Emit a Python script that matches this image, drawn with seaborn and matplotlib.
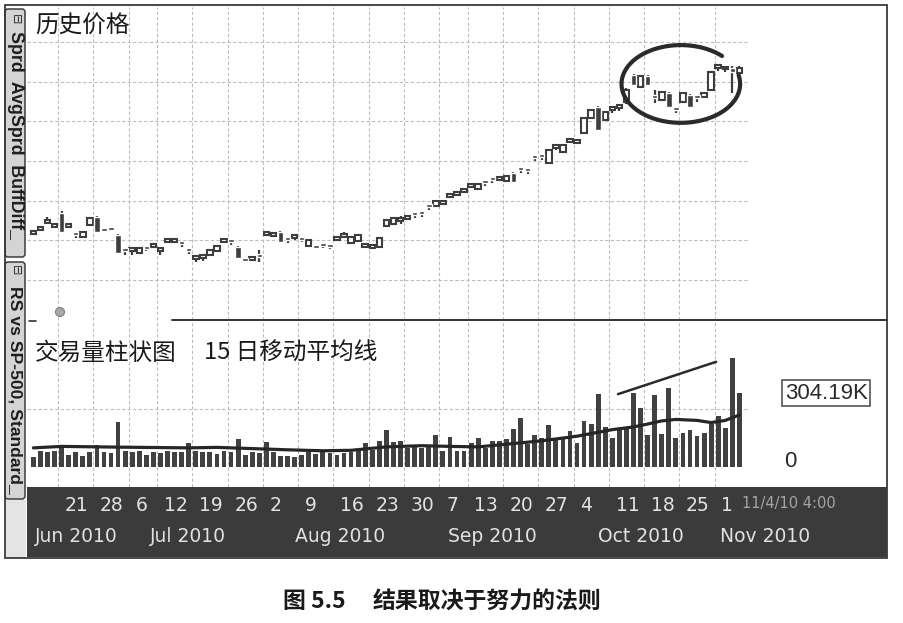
import numpy as np
import matplotlib
matplotlib.use('Agg')
import matplotlib.pyplot as plt
from matplotlib.patches import Rectangle, FancyBboxPatch, Circle
import seaborn as sns

W, H = 904, 623

# ---- data (bar 0 = 15 Jun 2010, last bar = 4 Nov 2010) ----
open_ = [21.16, 21.26, 21.44, 21.34, 21.69, 21.34, 21.16, 21.08, 21.39, 21.59,
         21.26, 21.28, 21.13, 20.76, 20.73, 20.68, 20.81, 20.83, 20.73, 20.96,
         20.96, 20.93, 20.76, 20.53, 20.55, 20.63, 20.73, 20.96, 20.98, 20.83,
         20.50, 20.50, 20.60, 21.13, 21.11, 21.21, 21.03, 21.06, 21.03, 20.86,
         20.83, 20.88, 20.86, 21.01, 21.08, 20.93, 20.98, 20.83, 20.81, 20.83,
         21.36, 21.41, 21.49, 21.54, 21.66, 21.69, 21.86, 21.86, 21.91, 22.09,
         22.14, 22.22, 22.34, 22.29, 22.47, 22.54, 22.52, 22.49, 22.70, 22.80,
         22.77, 23.10, 23.12, 22.95, 23.32, 23.22, 23.48, 23.45, 23.70, 24.08,
         24.36, 24.03, 24.28, 24.33, 24.48, 25.16, 24.86, 25.14, 24.63, 24.53,
         24.71, 24.31, 24.48, 24.66, 24.61, 24.61, 24.79, 25.34, 25.31, 25.34,
         25.21]
close = [21.21, 21.31, 21.46, 21.36, 21.21, 21.36, 21.13, 21.21, 21.56, 21.21,
         21.23, 21.26, 20.68, 20.73, 20.76, 20.81, 20.78, 20.86, 20.76, 20.98,
         20.98, 20.91, 20.73, 20.55, 20.58, 20.76, 20.86, 20.98, 20.96, 20.55,
         20.48, 20.53, 20.58, 21.16, 21.13, 20.96, 21.01, 21.08, 21.01, 21.01,
         20.81, 20.86, 20.83, 21.03, 21.11, 21.08, 21.13, 20.86, 20.83, 21.06,
         21.51, 21.56, 21.51, 21.56, 21.64, 21.66, 21.84, 21.99, 21.94, 22.12,
         22.17, 22.24, 22.37, 22.42, 22.44, 22.52, 22.54, 22.62, 22.47, 22.77,
         22.75, 23.07, 23.10, 23.27, 23.35, 23.40, 23.50, 23.48, 24.08, 24.28,
         23.78, 24.23, 24.31, 24.36, 24.79, 24.91, 25.14, 24.91, 24.58, 24.74,
         24.36, 24.28, 24.71, 24.36, 24.58, 24.71, 25.24, 25.37, 25.34, 25.24,
         25.34]
high = [21.23, 21.34, 21.59, 21.41, 21.74, 21.39, 21.18, 21.23, 21.59, 21.61,
        21.28, 21.31, 21.16, 20.78, 20.81, 20.83, 20.83, 20.91, 20.81, 21.01,
        21.06, 20.93, 20.76, 20.60, 20.63, 20.78, 20.88, 21.06, 20.98, 20.86,
        20.53, 20.60, 20.76, 21.23, 21.21, 21.23, 21.03, 21.16, 21.03, 21.03,
        20.86, 20.88, 20.86, 21.06, 21.21, 21.11, 21.16, 20.88, 20.86, 21.08,
        21.54, 21.59, 21.61, 21.64, 21.66, 21.69, 21.86, 22.02, 21.96, 22.19,
        22.24, 22.32, 22.44, 22.44, 22.47, 22.54, 22.57, 22.64, 22.72, 22.80,
        22.77, 23.10, 23.12, 23.30, 23.43, 23.43, 23.55, 23.50, 24.11, 24.31,
        24.38, 24.26, 24.36, 24.41, 24.84, 25.19, 25.16, 25.16, 24.79, 24.76,
        24.74, 24.31, 24.74, 24.69, 24.61, 24.74, 25.26, 25.39, 25.37, 25.39,
        25.39]
low = [21.13, 21.23, 21.41, 21.31, 21.18, 21.31, 21.06, 21.06, 21.36, 21.18,
       21.21, 21.23, 20.65, 20.63, 20.63, 20.65, 20.73, 20.83, 20.63, 20.93,
       20.96, 20.83, 20.65, 20.45, 20.48, 20.60, 20.71, 20.96, 20.88, 20.53,
       20.45, 20.50, 20.45, 21.13, 21.11, 20.93, 20.93, 21.01, 20.96, 20.83,
       20.78, 20.81, 20.78, 21.01, 21.08, 20.91, 20.96, 20.81, 20.78, 20.81,
       21.34, 21.39, 21.41, 21.54, 21.56, 21.59, 21.76, 21.84, 21.89, 22.09,
       22.14, 22.22, 22.34, 22.27, 22.37, 22.44, 22.49, 22.47, 22.44, 22.70,
       22.67, 23.00, 23.02, 22.92, 23.27, 23.20, 23.48, 23.43, 23.68, 24.06,
       23.75, 24.01, 24.21, 24.26, 24.43, 24.89, 24.84, 24.89, 24.46, 24.51,
       24.33, 24.21, 24.46, 24.33, 24.48, 24.58, 24.76, 25.26, 25.24, 24.71,
       25.16]

# volume in thousands
volume = [41, 66, 62, 66, 87, 49, 62, 45, 62, 91,
          62, 58, 185, 66, 62, 66, 49, 62, 58, 66,
          62, 62, 99, 66, 62, 62, 54, 66, 62, 115,
          49, 62, 58, 103, 62, 45, 45, 41, 49, 62,
          54, 62, 58, 49, 58, 62, 66, 99, 70, 107,
          152, 103, 107, 78, 82, 78, 87, 132, 66, 124,
          66, 66, 99, 119, 78, 107, 107, 115, 157, 202,
          95, 132, 119, 173, 115, 115, 148, 99, 190, 177,
          301, 165, 119, 152, 165, 305, 243, 132, 297, 136,
          325, 119, 140, 152, 128, 140, 177, 210, 161, 449,
          304.19]

# 15 day moving average as drawn
ma_idx = [0, 4, 12, 22, 26, 31, 36, 41, 45, 50, 55, 59, 63, 67, 72, 77, 82,
          85, 87, 89, 91, 94, 96, 98, 100]
ma_vol = [79, 85, 82, 79, 81, 76, 71, 67, 69, 83, 88, 85, 83, 94, 108, 127,
          154, 165, 177, 190, 196, 192, 183, 192, 214]

# first bar of each week and its day number
week_start_idx = [4, 9, 14, 18, 23, 28, 33, 38, 43, 48, 53, 58, 62, 67, 72,
                  77, 82, 87, 92, 97]
week_labels = ['21', '28', '6', '12', '19', '26', '2', '9', '16', '23', '30',
               '7', '13', '20', '27', '4', '11', '18', '25', '1']
month_labels = ['Jun 2010', 'Jul 2010', 'Aug 2010', 'Sep 2010', 'Oct 2010', 'Nov 2010']
month_pos = [0.25, 16.5, 37.1, 58.7, 80.0, 97.3]

# hand drawn annotations
trend_x = [82.8, 96.7]
trend_y = [300, 433]
ring_center = (91.7, 24.94)
ring_half = (8.4, 0.98)

# ---- style ----
sns.set_style('white')
plt.rcParams['font.family'] = ['Noto Sans CJK SC', 'DejaVu Sans']

ink = '#3e3e3e'
grid_kw = dict(color='#bdbdbd', lw=0.8, ls=(0, (3, 2)), zorder=1)
x_left, x_right = -0.9, 120.9
grid_end = 101.2
p_lo, p_hi = 18.99, 26.88
v_lo, v_hi = -82, 605

fig = plt.figure(figsize=(W / 100, H / 100), dpi=100)


def box(x0, y0, x1, y1):
    return [x0 / W, 1 - y1 / H, (x1 - x0) / W, (y1 - y0) / H]


ax_p = fig.add_axes(box(27, 7, 887, 320))
ax_v = fig.add_axes(box(27, 320, 887, 487))
ax_d = fig.add_axes(box(27, 487, 887, 557))

idx = np.arange(len(close))
o = np.array(open_)
c = np.array(close)
wk = np.array(week_start_idx) - 0.5

# price panel
ax_p.vlines(wk, p_lo, p_hi, **grid_kw)
ax_p.hlines(np.arange(20, 27), x_left, grid_end, **grid_kw)
ax_p.vlines(idx, low, high, color=ink, lw=1.6, zorder=2)
up = c >= o
bottom = np.minimum(o, c)
height = np.maximum(np.abs(c - o), 0.07)
ax_p.bar(idx[up], height[up], bottom=bottom[up], width=0.78,
         facecolor='white', edgecolor=ink, lw=1.5, zorder=3)
ax_p.bar(idx[~up], height[~up], bottom=bottom[~up], width=0.78,
         color=ink, zorder=3)
t = np.deg2rad(np.linspace(46, 373, 200))
ax_p.plot(ring_center[0] + ring_half[0] * np.cos(t),
          ring_center[1] + ring_half[1] * np.sin(t),
          color='#2a2a2a', lw=3, solid_capstyle='round', zorder=4)
ax_p.set_ylim(p_lo, p_hi)

# volume panel
ax_v.vlines(wk, v_lo, v_hi, **grid_kw)
ax_v.hlines([240], x_left, grid_end, **grid_kw)
sns.barplot(x=idx, y=volume, native_scale=True, color='#414141', saturation=1,
            width=0.68, errorbar=None, linewidth=0, ax=ax_v, zorder=2)
sns.lineplot(x=ma_idx, y=ma_vol, ax=ax_v, color='#262626', lw=2.3, zorder=4)
ax_v.plot(trend_x, trend_y, color='#2b2b2b', lw=1.8, zorder=4)
ax_v.text(112.3, volume[-1], '304.19K', ha='center', va='center', fontsize=16,
          family='Liberation Sans', color='#2a2a2a',
          bbox=dict(boxstyle='square,pad=0.12', fc='white', ec='#555555', lw=1.2))
ax_v.text(107.2, 0, '0', ha='center', va='baseline', fontsize=16,
          family='Liberation Sans', color='#2a2a2a')
ax_v.set_ylim(v_lo, v_hi)

# dark date band
ax_d.set_facecolor('#3b3b3b')
ax_d.set_ylim(0, 1)
for x, lab in zip(wk, week_labels):
    ax_d.text(x + 0.95, 0.74, lab, ha='left', va='center', fontsize=13.5,
              family='DejaVu Sans', color='#e2e2e2')
for x, lab in zip(month_pos, month_labels):
    ax_d.text(x, 0.29, lab, ha='left', va='center', fontsize=13.5,
              family='DejaVu Sans', color='#e2e2e2')
ax_d.text(100.4, 0.77, '11/4/10 4:00', ha='left', va='center', fontsize=10.5,
          family='DejaVu Sans', color='#a5a5a5')

for a in (ax_p, ax_v, ax_d):
    a.set_xlim(x_left, x_right)
    a.set_xticks([])
    a.set_yticks([])
    a.set_xlabel('')
    a.set_ylabel('')
    for s in a.spines.values():
        s.set_visible(False)

# overlay in pixel coordinates: frame, side tabs, titles, caption
ax_o = fig.add_axes([0, 0, 1, 1])
ax_o.set_xlim(0, W)
ax_o.set_ylim(H, 0)
ax_o.axis('off')

ax_o.add_patch(Rectangle((6, 500), 20, 57, fc='#e4e4e4', ec='none'))
ax_o.add_patch(FancyBboxPatch((5, 9), 20, 248, boxstyle='round,pad=0,rounding_size=3',
                              fc='#d4d4d4', ec='#3c3c3c', lw=1.1))
ax_o.add_patch(FancyBboxPatch((5, 262), 20, 237, boxstyle='round,pad=0,rounding_size=3',
                              fc='#d4d4d4', ec='#3c3c3c', lw=1.1))
ax_o.add_patch(Rectangle((5, 5), 882, 553, fill=False, ec='#3a3a3a', lw=1.3))
for y0 in (19, 270):
    ax_o.text(15, y0, '⊟', rotation=-90, ha='center', va='center', fontsize=9,
              family='DejaVu Sans', color='#333333')
ax_o.text(15, 31, 'Sprd  AvgSprd  BuffDiff_', rotation=-90, ha='center', va='top',
          fontsize=12.8, weight='bold', family='Liberation Sans', color='#1e1e1e')
ax_o.text(15, 286, 'RS vs SP-500, Standard_', rotation=-90, ha='center', va='top',
          fontsize=12.6, weight='bold', family='Liberation Sans', color='#1e1e1e')

ax_o.plot([172, 887], [320, 320], color='#333333', lw=1.4)
ax_o.plot([29, 36], [321, 321], color='#333333', lw=1.2)
ax_o.add_patch(Circle((60, 312), 4.5, fc='#a8a8a8', ec='#808080', lw=0.8))

ax_o.text(35, 26, '历史价格', ha='left', va='center', fontsize=17, color='#1a1a1a')
ax_o.text(35, 353, '交易量柱状图', ha='left', va='center', fontsize=17, color='#1a1a1a')
ax_o.text(204, 353, '15 日移动平均线', ha='left', va='center', fontsize=17, color='#1a1a1a')

ax_o.text(283, 602, '图 5.5', ha='left', va='center', fontsize=16.5,
          weight='bold', color='#1a1a1a')
ax_o.text(373, 602, '结果取决于努力的法则', ha='left', va='center', fontsize=16.5,
          weight='bold', color='#1a1a1a')

fig.savefig('out.png', dpi=100)
